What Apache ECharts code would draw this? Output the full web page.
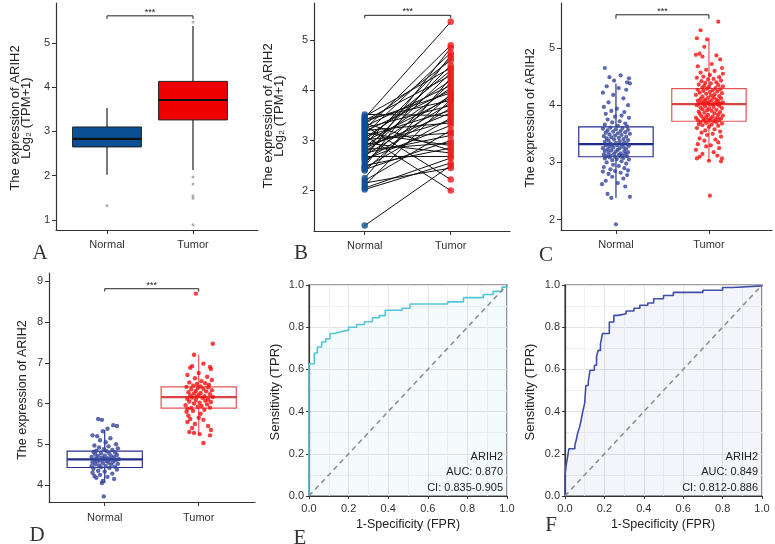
<!DOCTYPE html>
<html>
<head>
<meta charset="UTF-8">
<title>ARIH2 expression</title>
<script src="https://cdn.jsdelivr.net/npm/echarts@6/dist/echarts.min.js"></script>
<style>
  html, body { margin: 0; padding: 0; background: #fff; }
  #main { width: 775px; height: 544px; }
</style>
</head>
<body>
<div id="main"></div>
<script>
var groups = ['Normal', 'Tumor'];

// A: box stats [x, lower whisker, Q1, median, Q3, upper whisker]
var aBoxes = [[1, 2.02, 2.65, 2.83, 3.10, 3.53], [2, 2.13, 3.26, 3.71, 4.13, 5.38]];
var aOutliers = [[1, 1.32], [2, 5.47], [2, 1.97], [2, 1.81], [2, 1.55], [2, 1.49], [2, 0.89]];
var aTicks = [1, 2, 3, 4, 5];

// B: paired samples
var bNormal = [3.52, 3.48, 3.45, 3.42, 3.40, 3.38, 3.35, 3.32, 3.30, 3.28, 3.25, 3.22, 3.20, 3.18, 3.15, 3.12, 3.10,
  3.08, 3.05, 3.02, 3.00, 2.98, 2.95, 2.92, 2.90, 2.88, 2.85, 2.82, 2.80, 2.78, 2.75, 2.72, 2.70, 2.68, 2.65, 2.62,
  2.60, 2.55, 2.50, 2.48, 2.45, 2.42, 2.40, 2.25, 2.20, 2.15, 2.10, 2.05, 2.02, 1.30];
var bTumor = [3.50, 4.45, 5.37, 3.80, 4.30, 3.95, 2.80, 4.60, 2.22, 4.10, 3.70, 4.90, 3.35, 4.00, 2.90, 4.75, 2.00,
  3.60, 4.20, 3.15, 4.40, 3.85, 2.75, 4.65, 3.40, 4.05, 3.55, 2.95, 4.50, 3.90, 3.10, 4.35, 3.75, 2.68, 4.85, 3.30,
  3.65, 4.15, 2.85, 4.70, 3.45, 3.00, 3.92, 4.25, 3.20, 2.45, 3.82, 2.65, 2.55, 2.50];
var bTicks = [2, 3, 4, 5];

// C
var cBoxes = [[1, 2.38, 3.10, 3.32, 3.62, 4.38], [2, 3.02, 3.72, 4.02, 4.29, 5.17]];
var cNormal = [[0.88,4.65],[1.05,4.52],[0.93,4.49],[1.14,4.47],[0.98,4.43],[1.12,4.40],[1.15,4.38],[0.90,4.33],[1.03,4.30],[1.11,4.27],
  [0.86,4.22],[0.97,4.18],[1.08,4.12],[0.92,4.05],[1.13,4.00],[0.87,3.97],[1.01,3.94],[0.95,3.90],[1.09,3.88],[0.89,3.85],
  [1.06,3.82],[0.99,3.80],[1.14,3.78],[0.91,3.75],[1.04,3.72],[0.96,3.70],[1.10,3.68],[0.88,3.66],[1.02,3.64],[1.12,3.63],
  [0.94,3.61],[1.07,3.60],[0.86,3.59],[1.00,3.58],[1.13,3.57],[0.91,3.56],[1.05,3.55],[0.97,3.54],[1.10,3.53],[0.89,3.52],
  [1.02,3.51],[1.15,3.50],[0.93,3.49],[1.06,3.48],[0.99,3.47],[0.87,3.46],[1.11,3.45],[0.95,3.44],[1.03,3.43],[0.90,3.42],
  [1.08,3.41],[0.98,3.40],[1.13,3.39],[0.92,3.38],[1.04,3.37],[0.88,3.36],[1.09,3.35],[1.00,3.34],[0.94,3.33],[1.12,3.32],
  [0.96,3.31],[1.06,3.31],[0.89,3.30],[1.01,3.30],[1.14,3.29],[0.93,3.28],[1.08,3.27],[0.97,3.26],[0.86,3.25],[1.04,3.25],
  [1.11,3.24],[0.91,3.23],[1.02,3.22],[0.95,3.21],[1.09,3.20],[0.88,3.20],[1.00,3.19],[1.13,3.18],[0.92,3.17],[1.05,3.16],
  [0.98,3.15],[1.10,3.15],[0.87,3.14],[1.03,3.13],[0.94,3.12],[1.07,3.12],[0.90,3.11],[1.12,3.11],[0.99,3.10],[1.05,3.10],
  [0.93,3.09],[1.08,3.08],[0.88,3.07],[1.01,3.06],[1.14,3.05],[0.96,3.04],[1.06,3.02],[0.90,3.00],[1.11,2.98],[0.97,2.96],
  [1.03,2.94],[0.87,2.92],[1.09,2.90],[0.94,2.88],[1.13,2.86],[0.99,2.85],[0.86,2.84],[1.05,2.82],[0.92,2.80],[1.12,2.78],
  [0.96,2.75],[1.08,2.72],[0.89,2.68],[1.02,2.64],[0.85,2.62],[1.10,2.58],[0.91,2.45],[1.15,2.40],[0.95,2.38],[1.00,1.92]];
var cTumor = [[2.10,5.46],[1.91,5.31],[1.87,5.17],[1.98,5.15],[1.95,5.02],[1.90,4.90],[1.86,4.88],[2.08,4.87],[1.93,4.85],[2.12,4.80],
  [2.03,4.72],[1.88,4.68],[2.14,4.65],[1.97,4.62],[2.06,4.60],[1.91,4.57],[2.15,4.55],[2.01,4.53],[1.94,4.50],[2.11,4.49],
  [1.87,4.48],[2.05,4.46],[1.99,4.45],[2.13,4.43],[1.92,4.42],[2.08,4.40],[1.96,4.39],[2.02,4.38],[1.89,4.36],[2.10,4.35],
  [1.95,4.34],[2.15,4.33],[2.00,4.32],[1.93,4.31],[2.07,4.30],[1.98,4.29],[2.12,4.28],[1.88,4.27],[2.04,4.26],[1.94,4.25],
  [2.09,4.24],[2.01,4.23],[1.90,4.22],[2.14,4.21],[1.97,4.20],[2.06,4.19],[1.86,4.18],[2.02,4.17],[2.11,4.16],[1.93,4.15],
  [2.05,4.14],[1.99,4.13],[2.13,4.12],[1.91,4.11],[2.08,4.10],[1.96,4.10],[2.03,4.09],[1.88,4.08],[2.10,4.07],[1.95,4.07],
  [2.00,4.06],[2.15,4.05],[1.92,4.05],[2.07,4.04],[1.98,4.04],[2.12,4.03],[1.89,4.03],[2.04,4.02],[1.94,4.02],[2.09,4.02],
  [2.01,4.01],[1.87,4.00],[2.11,3.99],[1.96,3.98],[2.05,3.97],[1.91,3.96],[2.14,3.95],[2.00,3.94],[1.93,3.93],[2.08,3.92],
  [1.98,3.91],[2.03,3.90],[1.89,3.89],[2.12,3.88],[1.95,3.87],[2.06,3.86],[1.90,3.85],[2.10,3.84],[1.99,3.83],[2.15,3.82],
  [1.92,3.81],[2.04,3.80],[1.97,3.80],[2.09,3.79],[1.86,3.78],[2.02,3.77],[2.13,3.77],[1.94,3.76],[2.07,3.75],[1.99,3.75],
  [1.88,3.74],[2.11,3.74],[2.01,3.73],[1.95,3.73],[2.05,3.72],[1.91,3.71],[2.08,3.70],[1.97,3.69],[2.14,3.68],[1.89,3.67],
  [2.03,3.66],[1.93,3.65],[2.10,3.64],[2.00,3.62],[1.87,3.60],[2.06,3.58],[1.96,3.56],[2.12,3.54],[1.92,3.52],[2.04,3.50],
  [1.98,3.48],[2.13,3.45],[1.90,3.42],[2.07,3.40],[1.95,3.38],[2.10,3.35],[1.88,3.32],[2.02,3.30],[1.97,3.28],[2.11,3.25],
  [1.86,3.22],[2.05,3.18],[1.93,3.15],[2.09,3.12],[1.90,3.10],[1.87,3.07],[2.14,3.07],[2.00,3.03],[2.13,3.02],[2.01,2.42]];
var cTicks = [2, 3, 4, 5];

// D
var dBoxes = [[1, 4.05, 4.43, 4.63, 4.83, 5.35], [2, 5.24, 5.89, 6.16, 6.41, 7.20]];
var dNormal = [[0.93,5.62],[0.97,5.60],[1.09,5.47],[1.13,5.45],[1.03,5.38],[0.98,5.32],[0.87,5.22],[0.92,5.20],[1.06,5.15],[0.95,5.10],
  [1.01,5.05],[1.12,5.00],[0.89,4.97],[1.04,4.95],[0.94,4.92],[1.14,4.90],[0.99,4.88],[1.08,4.86],[0.91,4.84],[1.02,4.83],
  [0.88,4.81],[1.11,4.80],[0.96,4.78],[1.05,4.77],[0.90,4.75],[1.13,4.74],[1.00,4.72],[0.93,4.71],[1.07,4.70],[0.86,4.69],
  [1.10,4.68],[0.97,4.67],[1.03,4.66],[0.91,4.65],[1.15,4.64],[0.99,4.64],[1.06,4.63],[0.89,4.62],[1.12,4.61],[0.95,4.60],
  [1.02,4.59],[0.92,4.58],[1.09,4.57],[0.87,4.56],[1.04,4.55],[0.98,4.54],[1.14,4.52],[0.90,4.51],[1.07,4.50],[0.94,4.48],
  [1.01,4.47],[0.86,4.46],[1.11,4.45],[0.96,4.44],[1.05,4.42],[0.88,4.40],[1.13,4.38],[0.93,4.35],[1.00,4.33],[0.87,4.30],
  [1.08,4.28],[0.95,4.25],[0.89,4.22],[1.03,4.20],[0.91,4.18],[1.10,4.15],[0.98,4.10],[0.97,4.05],[0.99,3.72]];
var dTumor = [[1.97,8.70],[2.15,7.47],[1.95,7.20],[2.05,6.98],[1.93,6.92],[2.12,6.90],[1.91,6.88],[2.13,6.85],[2.00,6.75],[1.88,6.70],
  [2.09,6.66],[1.96,6.62],[2.14,6.58],[2.03,6.55],[1.90,6.52],[2.07,6.50],[1.98,6.48],[2.11,6.46],[1.94,6.44],[2.02,6.42],
  [1.87,6.41],[2.10,6.40],[1.99,6.38],[2.05,6.36],[1.92,6.35],[2.14,6.33],[1.97,6.31],[2.08,6.30],[1.89,6.28],[2.02,6.26],
  [1.95,6.25],[2.12,6.23],[2.00,6.21],[1.91,6.20],[2.06,6.18],[1.98,6.17],[2.15,6.16],[1.93,6.15],[2.04,6.14],[1.88,6.12],
  [2.10,6.10],[1.97,6.09],[2.07,6.07],[1.90,6.05],[2.13,6.04],[2.01,6.02],[1.95,6.00],[2.09,5.98],[1.86,5.96],[2.03,5.94],
  [1.99,5.92],[2.12,5.90],[1.92,5.89],[1.88,5.87],[2.06,5.85],[1.94,5.82],[1.87,5.80],[2.02,5.75],[1.89,5.70],[2.00,5.65],
  [1.91,5.62],[2.05,5.60],[1.88,5.55],[1.96,5.50],[2.10,5.45],[1.93,5.40],[2.13,5.35],[1.90,5.30],[1.95,5.28],[2.01,5.25],
  [2.12,5.22],[2.05,5.03]];
var dTicks = [4, 5, 6, 7, 8, 9];

// significance brackets [x1, x2, bar level, tip level]
var sigA = [[1, 2, 5.61, 5.54]];
var sigB = [[1, 2, 5.50, 5.44]];
var sigC = [[1, 2, 5.58, 5.51]];
var sigD = [[1, 2, 8.82, 8.75]];

// E, F: ROC curves
var eFpr = [0, 0, 0.027, 0.042, 0.064, 0.085, 0.106, 0.13, 0.16, 0.2, 0.24, 0.28, 0.32, 0.355, 0.385, 0.47, 0.51, 0.7, 0.78, 0.88, 0.93, 0.975, 1];
var eTpr = [0, 0.627, 0.678, 0.706, 0.73, 0.745, 0.77, 0.778, 0.786, 0.8, 0.813, 0.826, 0.845, 0.855, 0.88, 0.89, 0.91, 0.92, 0.94, 0.955, 0.97, 0.99, 1];
var fFpr = [0, 0, 0.005, 0.012, 0.02, 0.05, 0.058, 0.065, 0.075, 0.082, 0.09, 0.1, 0.106, 0.118, 0.127, 0.149, 0.16, 0.168,
  0.18, 0.19, 0.225, 0.248, 0.27, 0.31, 0.35, 0.38, 0.42, 0.45, 0.5, 0.55, 0.7, 0.8, 0.85, 1];
var fTpr = [0, 0.1, 0.14, 0.18, 0.224, 0.24, 0.27, 0.3, 0.33, 0.36, 0.4, 0.44, 0.524, 0.54, 0.596, 0.62, 0.66, 0.69,
  0.72, 0.77, 0.825, 0.856, 0.864, 0.877, 0.89, 0.904, 0.915, 0.935, 0.95, 0.965, 0.975, 0.988, 0.996, 1];
var diagonal = [[0, 0], [1, 1]];
var rocInfo = [['ARIH2', 'AUC: 0.870', 'CI: 0.835-0.905'], ['ARIH2', 'AUC: 0.849', 'CI: 0.812-0.886']];

var FONT = 'Liberation Sans';
var chart = echarts.init(document.getElementById('main'));

function boxRenderer(fills, strokes, medColors, lw) {
  return function (params, api) {
    var x = api.value(0), hw = 0.4, i = params.dataIndex;
    var lo = api.coord([x, api.value(1)]), q1 = api.coord([x, api.value(2)]);
    var md = api.coord([x, api.value(3)]), q3 = api.coord([x, api.value(4)]);
    var hi = api.coord([x, api.value(5)]);
    var left = api.coord([x - hw, api.value(3)])[0], right = api.coord([x + hw, api.value(3)])[0];
    return {
      type: 'group',
      children: [
        { type: 'line', shape: { x1: lo[0], y1: lo[1], x2: q1[0], y2: q1[1] }, style: { stroke: strokes[i], lineWidth: 1.2 } },
        { type: 'line', shape: { x1: q3[0], y1: q3[1], x2: hi[0], y2: hi[1] }, style: { stroke: strokes[i], lineWidth: 1.2 } },
        { type: 'rect', shape: { x: left, y: q3[1], width: right - left, height: q1[1] - q3[1] },
          style: { fill: fills[i], stroke: strokes[i], lineWidth: lw } },
        { type: 'line', shape: { x1: left, y1: md[1], x2: right, y2: md[1] }, style: { stroke: medColors[i], lineWidth: 2.2 } }
      ]
    };
  };
}

function bracketRenderer(params, api) {
  var a = api.coord([api.value(0), api.value(3)]);
  var b = api.coord([api.value(0), api.value(2)]);
  var c = api.coord([api.value(1), api.value(2)]);
  var d = api.coord([api.value(1), api.value(3)]);
  return {
    type: 'group',
    children: [
      { type: 'polyline', shape: { points: [a, b, c, d] }, style: { stroke: '#222', lineWidth: 1, fill: 'none' } },
      { type: 'text', x: (b[0] + c[0]) / 2, y: b[1] + 1,
        style: { text: '***', textAlign: 'center', textVerticalAlign: 'bottom', font: '9px ' + FONT, fill: '#222' } }
    ]
  };
}

function pairRenderer(params, api) {
  var p = api.coord([1, api.value(0)]), q = api.coord([2, api.value(1)]);
  return { type: 'line', shape: { x1: p[0], y1: p[1], x2: q[0], y2: q[1] }, style: { stroke: '#111', lineWidth: 1 } };
}

function groupXAxis(gi, min, max, margin) {
  return {
    type: 'value', gridIndex: gi, min: min, max: max,
    axisLine: { show: true, onZero: false, lineStyle: { color: '#333', width: 1.2 } },
    axisTick: { show: true, customValues: [1, 2], length: 4, lineStyle: { color: '#333' } },
    axisLabel: { customValues: [1, 2], margin: margin, fontSize: 11, color: '#333', fontFamily: FONT,
      formatter: function (v) { return groups[Math.round(v) - 1]; } },
    splitLine: { show: false }
  };
}

function exprYAxis(gi, min, max, ticks) {
  return {
    type: 'value', gridIndex: gi, min: min, max: max,
    axisLine: { show: true, onZero: false, lineStyle: { color: '#333', width: 1.2 } },
    axisTick: { show: true, customValues: ticks, length: 4, lineStyle: { color: '#333' } },
    axisLabel: { customValues: ticks, margin: 6, fontSize: 11, color: '#333', fontFamily: FONT },
    splitLine: { show: false }
  };
}

function rocAxis(gi, isX) {
  return {
    type: 'value', gridIndex: gi, min: 0, max: 1, interval: 0.2,
    axisLine: { show: true, onZero: false, lineStyle: { color: '#333', width: 1.2 } },
    axisTick: { show: true, length: 3, lineStyle: { color: '#333' } },
    minorTick: { show: false, splitNumber: 2 },
    axisLabel: { fontSize: 11, color: '#333', fontFamily: FONT, margin: isX ? 7 : 5,
      formatter: function (v) { return v.toFixed(1); } },
    splitLine: { show: true, lineStyle: { color: '#e3e3e3', width: 1 } },
    minorSplitLine: { show: true, lineStyle: { color: '#f1f1f1', width: 1 } }
  };
}

function rocSeries(gi, fpr, tpr, color, fill) {
  return [{
    type: 'line', xAxisIndex: gi, yAxisIndex: gi, step: 'end', symbol: 'none',
    data: fpr.map(function (v, i) { return [v, tpr[i]]; }),
    lineStyle: { color: color, width: 1.6 }, areaStyle: { color: fill }
  }, {
    type: 'line', xAxisIndex: gi, yAxisIndex: gi, symbol: 'none', data: diagonal,
    lineStyle: { color: '#8a8a8a', width: 1.5, type: [5, 4] }
  }];
}

function vtext(x, y, text, size) {
  return { type: 'text', x: x, y: y, z: 100, rotation: Math.PI / 2,
    style: { text: text, textAlign: 'center', textVerticalAlign: 'middle', font: size + 'px ' + FONT, fill: '#222' } };
}
function htext(x, y, text, size, align) {
  return { type: 'text', x: x, y: y, z: 100,
    style: { text: text, textAlign: align || 'center', textVerticalAlign: 'middle', font: size + 'px ' + FONT, fill: '#222' } };
}
function letter(x, y, text) {
  return { type: 'text', x: x, y: y, z: 100,
    style: { text: text, textAlign: 'center', textVerticalAlign: 'middle', font: '21px Liberation Serif', fill: '#333' } };
}

var graphics = [
  vtext(15, 118, 'The expression of ARIH2', 13), vtext(26, 118, 'Log\u2082 (TPM+1)', 13),
  vtext(268, 116, 'The expression of ARIH2', 13), vtext(279, 116, 'Log\u2082 (TPM+1)', 13),
  vtext(531, 118, 'The expression of ARIH2', 12.5),
  vtext(23, 390, 'The expression of ARIH2', 12.5),
  vtext(275, 392, 'Sensitivity (TPR)', 13), vtext(530, 392, 'Sensitivity (TPR)', 13),
  htext(408, 525, '1-Specificity (FPR)', 12.5), htext(663, 525, '1-Specificity (FPR)', 12.5),
  letter(40, 253, 'A'), letter(301, 253, 'B'), letter(546, 255, 'C'),
  letter(37, 535, 'D'), letter(300, 538, 'E'), letter(551, 525, 'F')
];
[[503, rocInfo[0]], [758, rocInfo[1]]].forEach(function (r) {
  graphics.push(htext(r[0], 457, r[1][0], 11, 'right'));
  graphics.push(htext(r[0], 472, r[1][1], 11, 'right'));
  graphics.push(htext(r[0], 488, r[1][2], 11, 'right'));
});

var rocGrid = { show: true, backgroundColor: '#fff', borderColor: '#444', borderWidth: 1.2, outerBoundsMode: 'none' };

var option = {
  animation: false,
  backgroundColor: '#fff',
  textStyle: { fontFamily: FONT },
  grid: [
    { left: 56, top: 3, width: 202, height: 227, outerBoundsMode: 'none' },
    { left: 314, top: 3, width: 196, height: 228, outerBoundsMode: 'none' },
    { left: 561, top: 3, width: 211, height: 227, outerBoundsMode: 'none' },
    { left: 49, top: 273, width: 206, height: 229, outerBoundsMode: 'none' },
    Object.assign({ left: 309, top: 285, width: 198, height: 211 }, rocGrid),
    Object.assign({ left: 565, top: 285, width: 197, height: 211 }, rocGrid)
  ],
  xAxis: [
    groupXAxis(0, 0.407, 2.756, 9),
    groupXAxis(1, 0.41, 2.689, 9),
    groupXAxis(2, 0.409, 2.678, 9),
    groupXAxis(3, 0.407, 2.599, 10),
    rocAxis(4, true), rocAxis(5, true)
  ],
  yAxis: [
    exprYAxis(0, 0.774, 5.9, aTicks),
    exprYAxis(1, 1.192, 5.746, bTicks),
    exprYAxis(2, 1.82, 5.786, cTicks),
    exprYAxis(3, 3.583, 9.206, dTicks),
    rocAxis(4, false), rocAxis(5, false)
  ],
  graphic: { elements: graphics },
  series: [
    // A
    { type: 'custom', xAxisIndex: 0, yAxisIndex: 0, data: aBoxes,
      renderItem: boxRenderer(['#0b4f94', '#ee0000'], ['#222', '#222'], ['#111', '#111'], 1) },
    { type: 'scatter', xAxisIndex: 0, yAxisIndex: 0, data: aOutliers, symbolSize: 3,
      itemStyle: { color: '#9a9a9a' } },
    { type: 'custom', xAxisIndex: 0, yAxisIndex: 0, data: sigA, renderItem: bracketRenderer },
    // B
    { type: 'custom', xAxisIndex: 1, yAxisIndex: 1, renderItem: pairRenderer,
      data: bNormal.map(function (v, i) { return [v, bTumor[i]]; }) },
    { type: 'scatter', xAxisIndex: 1, yAxisIndex: 1, symbolSize: 6.5, itemStyle: { color: '#0d4f96' },
      data: bNormal.map(function (v) { return [1, v]; }) },
    { type: 'scatter', xAxisIndex: 1, yAxisIndex: 1, symbolSize: 6.5, itemStyle: { color: '#ee1c1c' },
      data: bTumor.map(function (v) { return [2, v]; }) },
    { type: 'custom', xAxisIndex: 1, yAxisIndex: 1, data: sigB, renderItem: bracketRenderer },
    // C
    { type: 'custom', xAxisIndex: 2, yAxisIndex: 2, data: cBoxes,
      renderItem: boxRenderer(['none', 'none'], ['#27308f', '#e45555'], ['#1f2a8c', '#d94444'], 1.2) },
    { type: 'scatter', xAxisIndex: 2, yAxisIndex: 2, data: cNormal, symbolSize: 4.2, itemStyle: { color: '#34449b' } },
    { type: 'scatter', xAxisIndex: 2, yAxisIndex: 2, data: cTumor, symbolSize: 4.2, itemStyle: { color: '#f70f0f' } },
    { type: 'custom', xAxisIndex: 2, yAxisIndex: 2, data: sigC, renderItem: bracketRenderer },
    // D
    { type: 'custom', xAxisIndex: 3, yAxisIndex: 3, data: dBoxes,
      renderItem: boxRenderer(['none', 'none'], ['#27308f', '#e45555'], ['#1f2a8c', '#d94444'], 1.2) },
    { type: 'scatter', xAxisIndex: 3, yAxisIndex: 3, data: dNormal, symbolSize: 4.4, itemStyle: { color: '#34449b' } },
    { type: 'scatter', xAxisIndex: 3, yAxisIndex: 3, data: dTumor, symbolSize: 4.4, itemStyle: { color: '#f70f0f' } },
    { type: 'custom', xAxisIndex: 3, yAxisIndex: 3, data: sigD, renderItem: bracketRenderer }
  ]
    .concat(rocSeries(4, eFpr, eTpr, '#55c6d6', 'rgba(85,198,214,0.10)'))
    .concat(rocSeries(5, fFpr, fTpr, '#3e4fa9', 'rgba(62,79,169,0.08)'))
};

chart.setOption(option);
</script>
</body>
</html>
